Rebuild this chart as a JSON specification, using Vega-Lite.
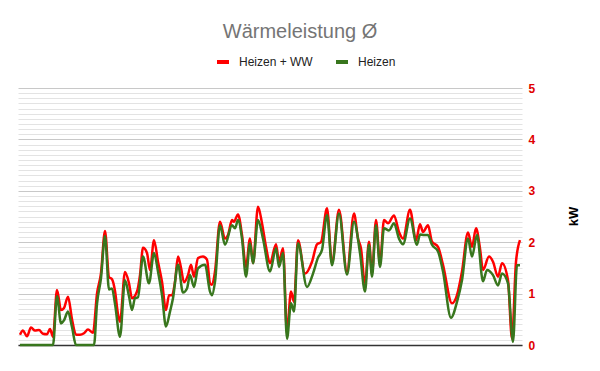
{
  "$schema": "https://vega.github.io/schema/vega-lite/v6.json",
  "width": 504,
  "height": 257,
  "autosize": {"type": "none"},
  "padding": {"left": 18, "top": 88, "right": 78, "bottom": 26},
  "background": "white",
  "config": {"view": {"stroke": null}, "font": "Liberation Sans"},
  "title": {"text": "Wärmeleistung Ø", "fontSize": 20, "fontWeight": "normal", "color": "#757575", "font": "Liberation Sans", "anchor": "middle", "dx": 30, "offset": 12},
  "data": {"values": [
    {"t":20,"s":"Heizen + WW","v":0.20},{"t":23,"s":"Heizen + WW","v":0.28},{"t":27,"s":"Heizen + WW","v":0.17},{"t":31,"s":"Heizen + WW","v":0.34},{"t":35,"s":"Heizen + WW","v":0.28},{"t":39,"s":"Heizen + WW","v":0.29},{"t":43,"s":"Heizen + WW","v":0.22},{"t":47,"s":"Heizen + WW","v":0.21},{"t":50,"s":"Heizen + WW","v":0.31},{"t":53,"s":"Heizen + WW","v":0.16},{"t":57,"s":"Heizen + WW","v":1.07},{"t":61,"s":"Heizen + WW","v":0.68},{"t":64,"s":"Heizen + WW","v":0.72},{"t":68,"s":"Heizen + WW","v":0.94},{"t":72,"s":"Heizen + WW","v":0.50},{"t":76,"s":"Heizen + WW","v":0.20},{"t":80,"s":"Heizen + WW","v":0.20},{"t":84,"s":"Heizen + WW","v":0.23},{"t":88,"s":"Heizen + WW","v":0.30},{"t":93,"s":"Heizen + WW","v":0.24},{"t":97,"s":"Heizen + WW","v":1.00},{"t":101,"s":"Heizen + WW","v":1.40},{"t":105,"s":"Heizen + WW","v":2.22},{"t":109,"s":"Heizen + WW","v":1.32},{"t":112,"s":"Heizen + WW","v":1.28},{"t":115,"s":"Heizen + WW","v":1.05},{"t":118,"s":"Heizen + WW","v":0.60},{"t":120,"s":"Heizen + WW","v":0.45},{"t":125,"s":"Heizen + WW","v":1.42},{"t":129,"s":"Heizen + WW","v":1.20},{"t":132,"s":"Heizen + WW","v":0.91},{"t":137,"s":"Heizen + WW","v":1.04},{"t":140,"s":"Heizen + WW","v":1.36},{"t":143,"s":"Heizen + WW","v":1.89},{"t":147,"s":"Heizen + WW","v":1.79},{"t":150,"s":"Heizen + WW","v":1.46},{"t":154,"s":"Heizen + WW","v":2.04},{"t":158,"s":"Heizen + WW","v":1.62},{"t":162,"s":"Heizen + WW","v":1.23},{"t":166,"s":"Heizen + WW","v":0.68},{"t":169,"s":"Heizen + WW","v":0.97},{"t":172,"s":"Heizen + WW","v":0.97},{"t":175,"s":"Heizen + WW","v":1.23},{"t":178,"s":"Heizen + WW","v":1.72},{"t":181,"s":"Heizen + WW","v":1.50},{"t":184,"s":"Heizen + WW","v":1.22},{"t":188,"s":"Heizen + WW","v":1.36},{"t":191,"s":"Heizen + WW","v":1.56},{"t":194,"s":"Heizen + WW","v":1.33},{"t":198,"s":"Heizen + WW","v":1.69},{"t":203,"s":"Heizen + WW","v":1.72},{"t":207,"s":"Heizen + WW","v":1.66},{"t":210,"s":"Heizen + WW","v":1.20},{"t":212,"s":"Heizen + WW","v":1.17},{"t":215,"s":"Heizen + WW","v":1.43},{"t":220,"s":"Heizen + WW","v":2.40},{"t":225,"s":"Heizen + WW","v":2.07},{"t":228,"s":"Heizen + WW","v":2.14},{"t":232,"s":"Heizen + WW","v":2.43},{"t":234,"s":"Heizen + WW","v":2.40},{"t":238,"s":"Heizen + WW","v":2.54},{"t":242,"s":"Heizen + WW","v":2.14},{"t":246,"s":"Heizen + WW","v":1.52},{"t":250,"s":"Heizen + WW","v":2.07},{"t":253,"s":"Heizen + WW","v":1.59},{"t":258,"s":"Heizen + WW","v":2.69},{"t":262,"s":"Heizen + WW","v":2.37},{"t":266,"s":"Heizen + WW","v":1.91},{"t":270,"s":"Heizen + WW","v":1.59},{"t":276,"s":"Heizen + WW","v":1.96},{"t":279,"s":"Heizen + WW","v":1.62},{"t":283,"s":"Heizen + WW","v":1.88},{"t":287,"s":"Heizen + WW","v":0.26},{"t":291,"s":"Heizen + WW","v":1.04},{"t":294,"s":"Heizen + WW","v":0.84},{"t":298,"s":"Heizen + WW","v":2.04},{"t":305,"s":"Heizen + WW","v":1.39},{"t":312,"s":"Heizen + WW","v":1.62},{"t":317,"s":"Heizen + WW","v":1.96},{"t":321,"s":"Heizen + WW","v":2.0},{"t":327,"s":"Heizen + WW","v":2.66},{"t":332,"s":"Heizen + WW","v":1.59},{"t":339,"s":"Heizen + WW","v":2.63},{"t":347,"s":"Heizen + WW","v":1.43},{"t":354,"s":"Heizen + WW","v":2.56},{"t":358,"s":"Heizen + WW","v":2.07},{"t":361,"s":"Heizen + WW","v":1.88},{"t":365,"s":"Heizen + WW","v":1.17},{"t":369,"s":"Heizen + WW","v":2.01},{"t":372,"s":"Heizen + WW","v":1.39},{"t":376,"s":"Heizen + WW","v":2.43},{"t":380,"s":"Heizen + WW","v":1.59},{"t":384,"s":"Heizen + WW","v":2.43},{"t":388,"s":"Heizen + WW","v":2.37},{"t":394,"s":"Heizen + WW","v":2.52},{"t":399,"s":"Heizen + WW","v":2.20},{"t":403,"s":"Heizen + WW","v":2.07},{"t":410,"s":"Heizen + WW","v":2.63},{"t":416,"s":"Heizen + WW","v":2.04},{"t":420,"s":"Heizen + WW","v":2.35},{"t":423,"s":"Heizen + WW","v":2.20},{"t":428,"s":"Heizen + WW","v":2.33},{"t":432,"s":"Heizen + WW","v":2.01},{"t":438,"s":"Heizen + WW","v":1.91},{"t":443,"s":"Heizen + WW","v":1.56},{"t":452,"s":"Heizen + WW","v":0.81},{"t":457,"s":"Heizen + WW","v":0.97},{"t":462,"s":"Heizen + WW","v":1.43},{"t":468,"s":"Heizen + WW","v":2.19},{"t":472,"s":"Heizen + WW","v":1.91},{"t":476,"s":"Heizen + WW","v":2.27},{"t":480,"s":"Heizen + WW","v":1.88},{"t":483,"s":"Heizen + WW","v":1.46},{"t":489,"s":"Heizen + WW","v":1.72},{"t":493,"s":"Heizen + WW","v":1.62},{"t":498,"s":"Heizen + WW","v":1.33},{"t":502,"s":"Heizen + WW","v":1.59},{"t":508,"s":"Heizen + WW","v":1.26},{"t":512,"s":"Heizen + WW","v":0.12},{"t":516,"s":"Heizen + WW","v":1.62},{"t":520,"s":"Heizen + WW","v":2.04},
    {"t":20,"s":"Heizen","v":0},{"t":53,"s":"Heizen","v":0},{"t":57,"s":"Heizen","v":0.95},{"t":61,"s":"Heizen","v":0.42},{"t":64,"s":"Heizen","v":0.48},{"t":68,"s":"Heizen","v":0.65},{"t":72,"s":"Heizen","v":0.35},{"t":76,"s":"Heizen","v":0},{"t":94,"s":"Heizen","v":0},{"t":97,"s":"Heizen","v":0.80},{"t":101,"s":"Heizen","v":1.30},{"t":105,"s":"Heizen","v":2.12},{"t":109,"s":"Heizen","v":1.08},{"t":112,"s":"Heizen","v":1.10},{"t":115,"s":"Heizen","v":0.80},{"t":120,"s":"Heizen","v":0.16},{"t":125,"s":"Heizen","v":1.26},{"t":129,"s":"Heizen","v":0.95},{"t":132,"s":"Heizen","v":0.68},{"t":135,"s":"Heizen","v":0.91},{"t":138,"s":"Heizen","v":0.93},{"t":143,"s":"Heizen","v":1.72},{"t":149,"s":"Heizen","v":1.20},{"t":154,"s":"Heizen","v":1.79},{"t":158,"s":"Heizen","v":1.43},{"t":162,"s":"Heizen","v":0.97},{"t":166,"s":"Heizen","v":0.36},{"t":170,"s":"Heizen","v":0.65},{"t":173,"s":"Heizen","v":0.91},{"t":178,"s":"Heizen","v":1.56},{"t":183,"s":"Heizen","v":1.02},{"t":187,"s":"Heizen","v":1.10},{"t":190,"s":"Heizen","v":1.36},{"t":194,"s":"Heizen","v":1.13},{"t":198,"s":"Heizen","v":1.49},{"t":205,"s":"Heizen","v":1.56},{"t":210,"s":"Heizen","v":1.04},{"t":212,"s":"Heizen","v":0.97},{"t":215,"s":"Heizen","v":1.23},{"t":220,"s":"Heizen","v":2.33},{"t":225,"s":"Heizen","v":1.95},{"t":232,"s":"Heizen","v":2.33},{"t":235,"s":"Heizen","v":2.27},{"t":238,"s":"Heizen","v":2.43},{"t":242,"s":"Heizen","v":2.07},{"t":246,"s":"Heizen","v":1.33},{"t":250,"s":"Heizen","v":1.98},{"t":253,"s":"Heizen","v":1.59},{"t":258,"s":"Heizen","v":2.43},{"t":263,"s":"Heizen","v":2.07},{"t":270,"s":"Heizen","v":1.43},{"t":276,"s":"Heizen","v":1.88},{"t":279,"s":"Heizen","v":1.52},{"t":283,"s":"Heizen","v":1.79},{"t":287,"s":"Heizen","v":0.12},{"t":291,"s":"Heizen","v":0.81},{"t":294,"s":"Heizen","v":0.65},{"t":298,"s":"Heizen","v":1.98},{"t":307,"s":"Heizen","v":1.13},{"t":313,"s":"Heizen","v":1.39},{"t":318,"s":"Heizen","v":1.70},{"t":322,"s":"Heizen","v":1.85},{"t":327,"s":"Heizen","v":2.53},{"t":332,"s":"Heizen","v":1.55},{"t":339,"s":"Heizen","v":2.56},{"t":347,"s":"Heizen","v":1.37},{"t":354,"s":"Heizen","v":2.40},{"t":360,"s":"Heizen","v":1.79},{"t":365,"s":"Heizen","v":1.04},{"t":369,"s":"Heizen","v":1.95},{"t":372,"s":"Heizen","v":1.33},{"t":376,"s":"Heizen","v":2.33},{"t":380,"s":"Heizen","v":1.52},{"t":384,"s":"Heizen","v":2.27},{"t":389,"s":"Heizen","v":2.23},{"t":394,"s":"Heizen","v":2.37},{"t":399,"s":"Heizen","v":2.07},{"t":403,"s":"Heizen","v":1.96},{"t":410,"s":"Heizen","v":2.46},{"t":417,"s":"Heizen","v":1.95},{"t":420,"s":"Heizen","v":2.15},{"t":424,"s":"Heizen","v":2.14},{"t":428,"s":"Heizen","v":2.14},{"t":432,"s":"Heizen","v":1.95},{"t":438,"s":"Heizen","v":1.82},{"t":443,"s":"Heizen","v":1.43},{"t":451,"s":"Heizen","v":0.53},{"t":457,"s":"Heizen","v":0.84},{"t":462,"s":"Heizen","v":1.26},{"t":468,"s":"Heizen","v":2.07},{"t":472,"s":"Heizen","v":1.72},{"t":477,"s":"Heizen","v":2.14},{"t":483,"s":"Heizen","v":1.24},{"t":487,"s":"Heizen","v":1.46},{"t":493,"s":"Heizen","v":1.36},{"t":498,"s":"Heizen","v":1.16},{"t":502,"s":"Heizen","v":1.39},{"t":508,"s":"Heizen","v":1.20},{"t":513,"s":"Heizen","v":0.06},{"t":517,"s":"Heizen","v":1.55},{"t":520,"s":"Heizen","v":1.55}
  ]},
  "mark": {"type": "line", "interpolate": "monotone", "strokeWidth": 2.5},
  "encoding": {
    "x": {"field": "t", "type": "quantitative", "scale": {"domain": [18, 522], "nice": false, "zero": false},
      "axis": {"labels": false, "ticks": false, "grid": false, "title": null, "domain": true, "domainColor": "#333333", "domainWidth": 1.5}},
    "y": {"field": "v", "type": "quantitative", "scale": {"domain": [0, 5], "nice": false},
      "axis": {"orient": "right",
        "values": [0,0.1,0.2,0.3,0.4,0.5,0.6,0.7,0.8,0.9,1,1.1,1.2,1.3,1.4,1.5,1.6,1.7,1.8,1.9,2,2.1,2.2,2.3,2.4,2.5,2.6,2.7,2.8,2.9,3,3.1,3.2,3.3,3.4,3.5,3.6,3.7,3.8,3.9,4,4.1,4.2,4.3,4.4,4.5,4.6,4.7,4.8,4.9,5],
        "labelExpr": "datum.value % 1 === 0 ? format(datum.value, 'd') : ''",
        "labelOverlap": false, "labelColor": "#e00000", "labelFontWeight": "bold", "labelFontSize": 12, "labelPadding": 6,
        "ticks": false, "domain": false,
        "gridColor": {"condition": {"test": "datum.value % 1 === 0", "value": "#c8c8c8"}, "value": "#e3e3e3"},
        "title": "kW", "titleFontWeight": "bold", "titleFontSize": 13, "titleColor": "#000000", "titleAngle": 270,
        "titleX": 51, "titleY": 128, "titleAlign": "center", "titleBaseline": "middle"}},
    "color": {"field": "s", "type": "nominal", "scale": {"domain": ["Heizen + WW", "Heizen"], "range": ["#ff0000", "#38761d"]},
      "legend": {"orient": "none", "legendX": 197, "legendY": -34, "direction": "horizontal", "title": null,
        "symbolType": "stroke", "symbolStrokeWidth": 4, "symbolSize": 144, "labelFontSize": 12, "labelColor": "#222222",
        "labelOffset": 8, "columnPadding": 15, "labelFont": "Liberation Sans"}}
  }
}
